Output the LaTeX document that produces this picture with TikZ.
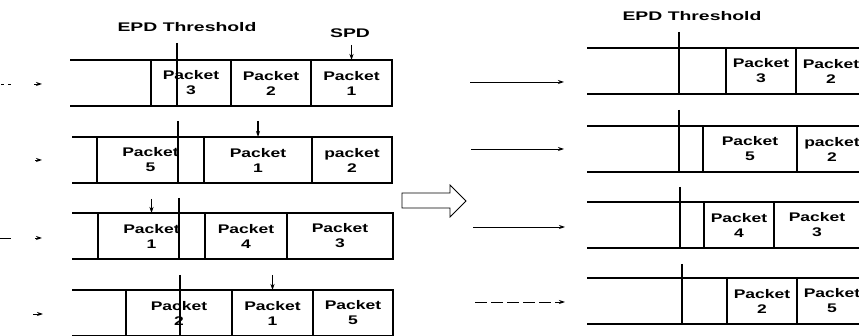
\documentclass[tikz,border=0pt]{standalone}
\usepackage{fontspec}
\usepackage{graphicx}
\usetikzlibrary{arrows.meta, positioning}
\newfontfamily\lblfont{Liberation Sans}
\newcommand{\wide}[2][1.4]{\scalebox{#1}[1]{#2}}
\newcommand{\pk}[2][Packet]{\wide{#1}\\\wide{#2}}

\begin{document}
\begin{tikzpicture}[x=1pt, y=-1pt, line width=1.2pt, >={Stealth[length=6pt, width=4pt]},
    pkt/.style={draw, rectangle, inner sep=0pt, outer sep=0pt, minimum height=46pt,
        align=center, font=\lblfont\bfseries\fontsize{12.5}{15}\selectfont},
    title/.style={inner sep=0pt, font=\lblfont\bfseries\fontsize{12.5}{15}\selectfont}]

    \clip (0,0) rectangle (859,336);

    %define titles
    \node[title] (ept1) at (187,27) {\wide[1.55]{EPD Threshold}};
    \node[title] (spd) at (350,33) {\wide[1.55]{SPD}};
    \node[title] (ept2) at (692,16) {\wide[1.55]{EPD Threshold}};

    %define left buffers
    \node[pkt, minimum width=80pt, anchor=north west] (a3) at (151,60) {\pk{3}};
    \node[pkt, minimum width=80pt] (a2) [right=0pt of a3] {\pk{2}};
    \node[pkt, minimum width=81pt] (a1) [right=0pt of a2] {\pk{1}};

    \node[pkt, minimum width=107pt, anchor=north west] (b5) at (97,137) {\pk{5}};
    \node[pkt, minimum width=108pt] (b1) [right=0pt of b5] {\pk{1}};
    \node[pkt, minimum width=80pt] (b2) [right=0pt of b1] {\pk[packet]{2}};

    \node[pkt, minimum width=107pt, anchor=north west] (c1) at (98,213) {\pk{1}};
    \node[pkt, minimum width=82pt] (c4) [right=0pt of c1] {\pk{4}};
    \node[pkt, minimum width=106pt] (c3) [right=0pt of c4] {\pk{3}};

    \node[pkt, minimum width=106pt, anchor=north west] (d2) at (126,290) {\pk{2}};
    \node[pkt, minimum width=81pt] (d1) [right=0pt of d2] {\pk{1}};
    \node[pkt, minimum width=80pt] (d5) [right=0pt of d1] {\pk{5}};

    %define right buffers
    \node[pkt, minimum width=70pt, anchor=north west] (e3) at (726,48) {\pk{3}};
    \node[pkt, minimum width=70pt] (e2) [right=0pt of e3] {\pk{2}};

    \node[pkt, minimum width=94pt, anchor=north west] (f5) at (703,126) {\pk{5}};
    \node[pkt, minimum width=70pt] (f2) [right=0pt of f5] {\pk[packet]{2}};

    \node[pkt, minimum width=70pt, anchor=north west] (g4) at (704,202) {\pk{4}};
    \node[pkt, minimum width=86pt] (g3) [right=0pt of g4] {\pk{3}};

    \node[pkt, minimum width=70pt, anchor=north west] (h2) at (727,278) {\pk{2}};
    \node[pkt, minimum width=70pt] (h5) [right=0pt of h2] {\pk{5}};

    %empty buffer space
    \coordinate (at) at (70,60);   \coordinate (ab) at (70,106);
    \coordinate (bt) at (72,137);  \coordinate (bb) at (72,183);
    \coordinate (ct) at (72,213);  \coordinate (cb) at (72,259);
    \coordinate (dt) at (72,290);  \coordinate (db) at (72,336);
    \coordinate (et) at (587,48);  \coordinate (eb) at (587,94);
    \coordinate (ft) at (587,126); \coordinate (fb) at (587,172);
    \coordinate (gt) at (587,202); \coordinate (gb) at (587,248);
    \coordinate (ht) at (587,278); \coordinate (hb) at (587,324);
    \draw (at) -- (a3.north west) (ab) -- (a3.south west)
          (bt) -- (b5.north west) (bb) -- (b5.south west)
          (ct) -- (c1.north west) (cb) -- (c1.south west)
          (dt) -- (d2.north west) (db) -- (d2.south west)
          (et) -- (e3.north west) (eb) -- (e3.south west)
          (ft) -- (f5.north west) (fb) -- (f5.south west)
          (gt) -- (g4.north west) (gb) -- (g4.south west)
          (ht) -- (h2.north west) (hb) -- (h2.south west);

    %EPD threshold lines
    \coordinate (ae) at (177,43);  \coordinate (be) at (178,121);
    \coordinate (ce) at (179,198); \coordinate (de) at (180,275);
    \coordinate (ee) at (679,32);  \coordinate (fe) at (679,110);
    \coordinate (ge) at (680,187); \coordinate (he) at (682,264);
    \draw (ae) -- (ae |- a3.south)
          (be) -- (be |- b5.south)
          (ce) -- (ce |- c1.south)
          (de) -- (de |- d2.south)
          (ee) -- (ee |- e3.south)
          (fe) -- (fe |- f5.south)
          (ge) -- (ge |- g4.south)
          (he) -- (he |- h2.south);

    %SPD pointers
    \path[->] ([yshift=15pt]a1.north) edge (a1.north)
              ([yshift=16pt]b1.north) edge (b1.north)
              ([yshift=14pt]c1.north) edge (c1.north)
              ([yshift=15pt]d1.north) edge (d1.north);

    %incoming traffic, left
    \draw[->, line width=0.9pt, dash pattern=on 3pt off 4pt on 3pt off 23pt on 9pt] (1,84) -- (42,84);
    \draw[->, line width=0.9pt] (35,160) -- (42,160);
    \draw[->, line width=0.9pt, dash pattern=on 11pt off 24pt on 8pt] (0,238) -- (42,238);
    \draw[->, line width=0.9pt] (33,314) -- (43,314);

    %incoming traffic, right
    \coordinate (ra1) at (470,82);  \coordinate (rb1) at (564,82);
    \coordinate (ra2) at (471,149); \coordinate (rb2) at (564,149);
    \coordinate (ra3) at (473,227); \coordinate (rb3) at (565,227);
    \coordinate (ra4) at (475,302); \coordinate (rb4) at (565,302);
    \path[->, line width=0.9pt] (ra1) edge (rb1)
                                (ra2) edge (rb2)
                                (ra3) edge (rb3)
                                (ra4) edge[dash pattern=on 12pt off 4pt] (rb4);

    %hollow arrow between the two states
    \draw[line width=0.8pt] (402,193) -- (450,193) -- (450,185) -- (466,201)
          -- (450,217) -- (450,208) -- (402,208) -- cycle;

\end{tikzpicture}
\end{document}
